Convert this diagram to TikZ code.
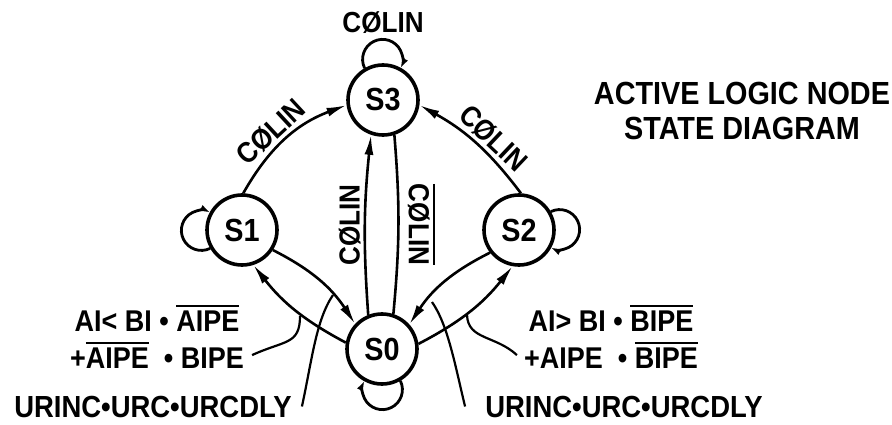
\documentclass[tikz,border=0pt]{standalone}
\usepackage{fontspec}
\setmainfont{Liberation Sans}[FakeStretch=0.9]
\usetikzlibrary{arrows.meta}
\newcommand{\barover}[1]{\vbox{\hrule height 2.2pt\kern 3pt\hbox{#1}}}
\begin{document}
\begin{tikzpicture}[x=1pt,y=1pt,
  state/.style={circle, draw=black, line width=3.6pt, minimum size=70pt, inner sep=0pt, font=\fontsize{32}{32}\selectfont\bfseries},
  edge/.style={line width=2.6pt, -{Latex[length=20pt,width=9pt]}},
  plainedge/.style={line width=2.6pt},
  selfloop/.style={line width=2.8pt, -{Latex[length=10pt,width=7pt]}},
  lead/.style={line width=2.2pt},
  lbl/.style={inner sep=3pt, font=\fontsize{29}{29}\selectfont\bfseries},
  cond/.style={inner sep=0pt, anchor=base, font=\fontsize{30}{30}\selectfont\bfseries},
  urc/.style={inner sep=0pt, anchor=base, font=\fontsize{30.5}{30}\selectfont\bfseries},
  heading/.style={inner sep=0pt, anchor=base, font=\fontsize{32}{32}\selectfont\bfseries}]
\useasboundingbox (0,0) rectangle (892,-425);
\node [state] (S3) at (383,-100) {S3};
\node [state] (S1) at (242,-230) {S1};
\node [state] (S2) at (519,-230) {S2};
\node [state] (S0) at (382,-349) {S0};
\node [lbl, inner sep=0pt, anchor=base] (S3loop) at (383,-33) {CØLIN};
\draw [selfloop] (S3.120) arc [start angle=206, end angle=-26, radius=20];
\draw [selfloop] (S1.210) arc [start angle=-64, end angle=-296, radius=20];
\draw [selfloop] (S2.30) arc [start angle=116, end angle=-116, radius=20];
\draw [selfloop] (S0.-60) arc [start angle=26, end angle=-206, radius=20];
\draw [edge] (S1.88) to [bend left=20] node [lbl, sloped, above, pos=0.45] {CØLIN} (S3.188);
\draw [edge] (S2.87) to [bend right=12] node [lbl, sloped, above, pos=0.42] {CØLIN} (S3.-8);
\draw [edge] (S0.112) to [bend left=5] node [lbl, rotate=90, anchor=south] {CØLIN} (S3.-109);
\draw [plainedge] (S3.-72) to [bend left=5] node [lbl, rotate=-90, anchor=south, inner sep=8pt] {\barover{CØLIN}} (S0.72);
\draw [edge] (S1.-33) to [bend left=15] (S0.137);
\draw [edge] (S0.170) to [bend left=12] (S1.-72);
\draw [edge] (S2.218) to [bend right=15] (S0.42);
\draw [edge] (S0.8) to [bend right=12] (S2.-100);
\node [cond] (lcond1) at (157,-331) {AI< BI • \barover{AIPE}};
\node [cond] (lcond2) at (157,-368) {+\barover{AIPE}\ \ • BIPE};
\node [urc] (lurinc) at (153,-417) {URINC•URC•URCDLY};
\node [cond] (rcond1) at (611,-331) {AI> BI • \barover{BIPE}};
\node [cond] (rcond2) at (611,-368) {+AIPE\ \ • \barover{BIPE}};
\node [urc] (rurinc) at (624,-417) {URINC•URC•URCDLY};
\node [heading] (title1) at (742,-105) {ACTIVE LOGIC NODE};
\node [heading] (title2) at (742,-140) {STATE DIAGRAM};
\coordinate (lend1) at (300,-316);
\coordinate (lend2) at (333,-295);
\coordinate (rend1) at (467,-315);
\coordinate (rend2) at (432,-302);
\draw [lead] ([xshift=8pt]lcond2.east) .. controls (285,-340) and (300,-345) .. (lend1);
\draw [lead] ([xshift=10pt]lurinc.east) .. controls (312,-360) and (316,-320) .. (lend2);
\draw [lead] ([xshift=-7pt]rcond2.west) .. controls (495,-335) and (468,-340) .. (rend1);
\draw [lead] ([xshift=-20pt]rurinc.west) .. controls (455,-365) and (448,-325) .. (rend2);
\end{tikzpicture}
\end{document}
